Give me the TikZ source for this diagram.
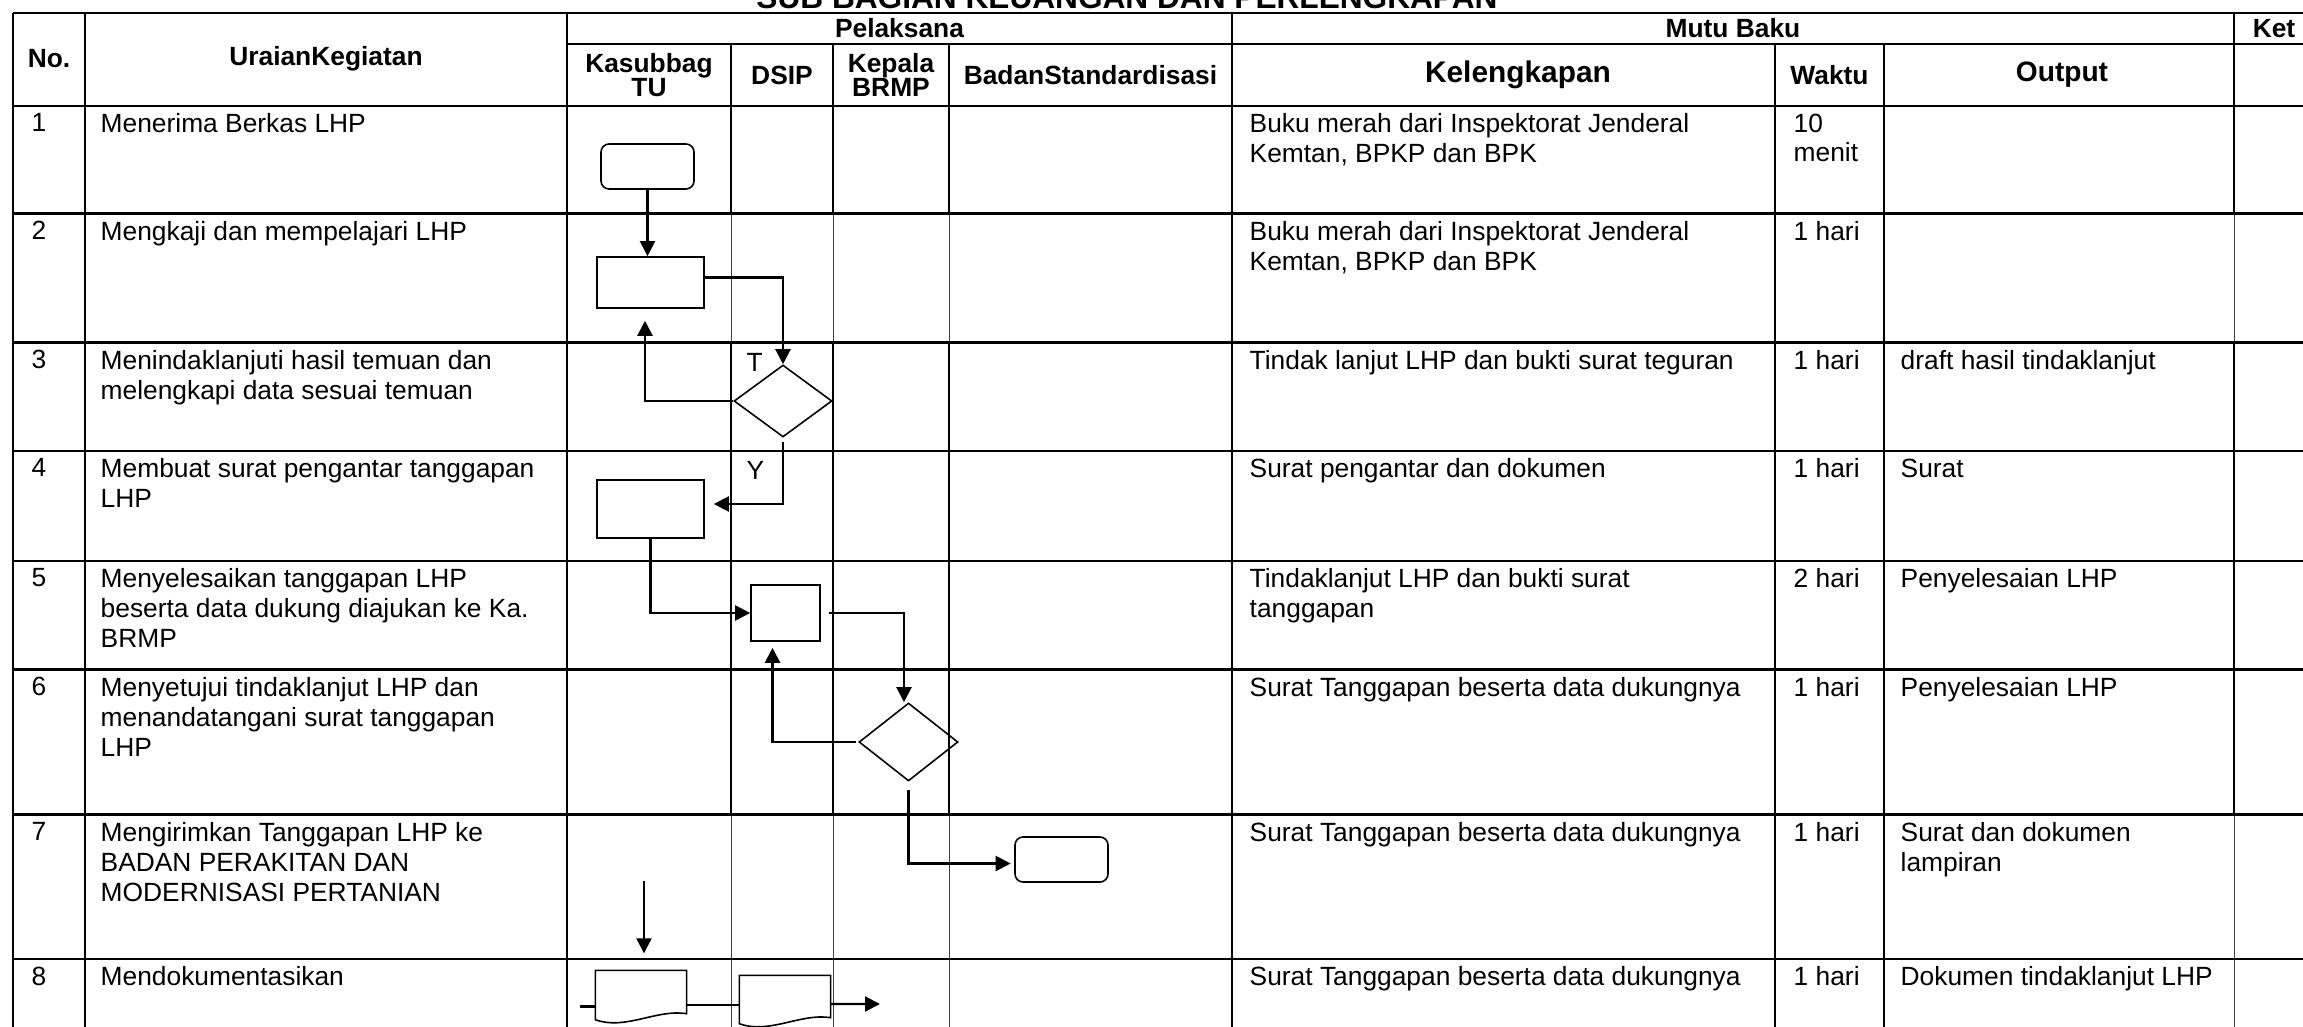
\documentclass[tikz,border=0pt]{standalone}
\usepackage{fontspec}
\setmainfont{Liberation Sans}
\usetikzlibrary{arrows.meta,shapes.geometric}

% document symbol with a wavy lower edge
\newcommand{\docshape}[1]{%
  \draw[outline] (#1.south west) -- (#1.north west) -- (#1.north east)
    -- ([yshift=0.6mm]#1.south east)
    .. controls +(-3mm,0.5mm) and +(3mm,-1.1mm) .. (#1.south west) -- cycle;}

\begin{document}
\begin{tikzpicture}[x=0.1mm, y=-0.1mm,
    grid/.style={line width=0.6pt},
    thin/.style={line width=0.25pt, black!75},
    txt/.style={anchor=north west, inner sep=0pt, align=left, font=\fontsize{7.5}{8.5}\selectfont},
    hdr/.style={inner sep=0pt, align=center, font=\bfseries\fontsize{7.5}{6.8}\selectfont},
    outline/.style={draw, line width=0.45pt},
    proc/.style={outline, inner sep=0pt},
    term/.style={proc, rounded corners=0.8mm},
    dec/.style={outline, diamond, inner sep=0pt},
    docu/.style={inner sep=0pt},
    flow/.style={line width=0.6pt, -{Triangle[length=1.5mm, width=1.5mm]}},
    link/.style={line width=0.6pt}]
     \useasboundingbox (0,0) rectangle (2303,1027);
     \clip (0,0) rectangle (2303,1027);

     % title, cut off by the page edge
     \node[inner sep=0pt, anchor=base, font=\bfseries\fontsize{9}{10}\selectfont] (title)
      at (1127,9) {SUB BAGIAN KEUANGAN DAN PERLENGKAPAN};

     % table grid
     \draw[grid] (  13,  13) -- (  13,1040);
     \draw[grid] (  85,  13) -- (  85,1040);
     \draw[grid] ( 567,  13) -- ( 567,1040);
     \draw[grid] (1232,  13) -- (1232,1040);
     \draw[grid] (1775,  44) -- (1775,1040);
     \draw[grid] (1884,  44) -- (1884,1040);
     \draw[grid] ( 731,  44) -- ( 731,213.5);
     \draw[thin] ( 731,213.5) -- ( 731,342.5);
     \draw[grid] ( 731,342.5) -- ( 731,814.5);
     \draw[thin] ( 731,814.5) -- ( 731,1040);
     \draw[grid] ( 833,  44) -- ( 833,213.5);
     \draw[thin] ( 833,213.5) -- ( 833,342.5);
     \draw[grid] ( 833,342.5) -- ( 833,814.5);
     \draw[thin] ( 833,814.5) -- ( 833,1040);
     \draw[grid] ( 949,  44) -- ( 949,213.5);
     \draw[thin] ( 949,213.5) -- ( 949,342.5);
     \draw[grid] ( 949,342.5) -- ( 949,814.5);
     \draw[thin] ( 949,814.5) -- ( 949,1040);
     \draw[grid] (2234,  13) -- (2234,213.5);
     \draw[thin] (2234,213.5) -- (2234,342.5);
     \draw[grid] (2234,342.5) -- (2234,814.5);
     \draw[thin] (2234,814.5) -- (2234,1040);
     \draw[grid] (  13,  13) -- (2320,  13);
     \draw[grid] ( 567,  44) -- (2320,  44);
     \draw[grid] (  13, 106) -- (2320, 106);
     \draw[grid] (  13,213.5) -- (2320,213.5);
     \draw[grid] (  13,342.5) -- (2320,342.5);
     \draw[grid] (  13, 451) -- (2320, 451);
     \draw[grid] (  13, 561) -- (2320, 561);
     \draw[grid] (  13,669.5) -- (2320,669.5);
     \draw[grid] (  13,814.5) -- (2320,814.5);
     \draw[grid] (  13, 959) -- (2320, 959);

     % header
     \node[hdr] (hno)   at (  49,  59) {No.};
     \node[hdr] (hura)  at ( 326,  59) {UraianKegiatan};
     \node[hdr] (hpel)  at (899.5,28.5) {Pelaksana};
     \node[hdr] (hmutu) at (1733,28.5) {Mutu Baku};
     \node[hdr] (hket)  at (2274,28.5) {Ket};
     \node[hdr] (hkas)  at ( 649,  75) {Kasubbag\\TU};
     \node[hdr] (hdsip) at ( 782,  75) {DSIP};
     \node[hdr] (hkep)  at ( 891,  75) {Kepala\\BRMP};
     \node[hdr] (hbsn)  at (1090.5,75) {BadanStandardisasi};
     \node[hdr, font=\bfseries\fontsize{8.5}{9}\selectfont] (hkel) at (1518,75) {Kelengkapan};
     \node[hdr] (hwkt)  at (1829.5,75) {Waktu};
     \node[hdr, font=\bfseries\fontsize{8}{9}\selectfont] (hout) at (2062,75) {Output};

     % numbers
     \node[txt] (no1) at (31,  113) {1};
     \node[txt] (no2) at (31,220.5) {2};
     \node[txt] (no3) at (31,349.5) {3};
     \node[txt] (no4) at (31,  458) {4};
     \node[txt] (no5) at (31,  568) {5};
     \node[txt] (no6) at (31,676.5) {6};
     \node[txt] (no7) at (31,821.5) {7};
     \node[txt] (no8) at (31,  966) {8};

     % activities
     \node[txt] (ura1) at (100,  113) {Menerima Berkas LHP};
     \node[txt] (ura2) at (100,220.5) {Mengkaji dan mempelajari LHP};
     \node[txt] (ura3) at (100,349.5) {Menindaklanjuti hasil temuan dan\\melengkapi data sesuai temuan};
     \node[txt] (ura4) at (100,  458) {Membuat surat pengantar tanggapan\\LHP};
     \node[txt] (ura5) at (100,  568) {Menyelesaikan tanggapan LHP\\beserta data dukung diajukan ke Ka.\\BRMP};
     \node[txt] (ura6) at (100,676.5) {Menyetujui tindaklanjut LHP dan\\menandatangani surat tanggapan\\LHP};
     \node[txt] (ura7) at (100,821.5) {Mengirimkan Tanggapan LHP ke\\BADAN PERAKITAN DAN\\MODERNISASI PERTANIAN};
     \node[txt] (ura8) at (100,  966) {Mendokumentasikan};

     % Kelengkapan
     \node[txt] (kel1) at (1249,  113) {Buku merah dari Inspektorat Jenderal\\Kemtan, BPKP dan BPK};
     \node[txt] (kel2) at (1249,220.5) {Buku merah dari Inspektorat Jenderal\\Kemtan, BPKP dan BPK};
     \node[txt] (kel3) at (1249,349.5) {Tindak lanjut LHP dan bukti surat teguran};
     \node[txt] (kel4) at (1249,  458) {Surat pengantar dan dokumen};
     \node[txt] (kel5) at (1249,  568) {Tindaklanjut LHP dan bukti surat\\tanggapan};
     \node[txt] (kel6) at (1249,676.5) {Surat Tanggapan beserta data dukungnya};
     \node[txt] (kel7) at (1249,821.5) {Surat Tanggapan beserta data dukungnya};
     \node[txt] (kel8) at (1249,  966) {Surat Tanggapan beserta data dukungnya};

     % Waktu
     \node[txt] (wkt1) at (1793,  113) {10\\menit};
     \node[txt] (wkt2) at (1793,220.5) {1 hari};
     \node[txt] (wkt3) at (1793,349.5) {1 hari};
     \node[txt] (wkt4) at (1793,  458) {1 hari};
     \node[txt] (wkt5) at (1793,  568) {2 hari};
     \node[txt] (wkt6) at (1793,676.5) {1 hari};
     \node[txt] (wkt7) at (1793,821.5) {1 hari};
     \node[txt] (wkt8) at (1793,  966) {1 hari};

     % Output
     \node[txt] (out3) at (1900,349.5) {draft hasil tindaklanjut};
     \node[txt] (out4) at (1900,  458) {Surat};
     \node[txt] (out5) at (1900,  568) {Penyelesaian LHP};
     \node[txt] (out6) at (1900,676.5) {Penyelesaian LHP};
     \node[txt] (out7) at (1900,821.5) {Surat dan dokumen\\lampiran};
     \node[txt] (out8) at (1900,  966) {Dokumen tindaklanjut LHP};

     % flow symbols
     \node[term, minimum width=9.3mm,  minimum height=4.5mm] (n1) at (647.5,166.5) {};
     \node[proc, minimum width=10.7mm, minimum height=5.1mm] (n2) at (650.5,282.5) {};
     \node[dec,  minimum width=9.8mm,  minimum height=7.2mm] (d3) at (783,401) {};
     \node[proc, minimum width=10.7mm, minimum height=5.8mm] (n4) at (650.5,509) {};
     \node[proc, minimum width=6.9mm,  minimum height=5.6mm] (n5) at (785.5,613) {};
     \node[dec,  minimum width=9.9mm,  minimum height=7.8mm] (d6) at (908.5,742) {};
     \node[term, minimum width=9.3mm,  minimum height=4.5mm] (n7) at (1061.5,859.5) {};
     \node[docu, minimum width=9.0mm,  minimum height=4.8mm] (doc8a) at (641,995) {};
     \node[docu, minimum width=9.0mm,  minimum height=4.7mm] (doc8b) at (785,999.5) {};
     \docshape{doc8a}
     \docshape{doc8b}

     \node[txt, anchor=base west] (lt) at (746,371.7) {T};
     \node[txt, anchor=base west] (ly) at (746,  480) {Y};

     % connectors
     \coordinate (a7) at (644,881);
     \coordinate (f8) at (580,1006.5);
     \coordinate (o8) at (880,1004);
     \draw[flow] (n1.south) -- (n1.south |- n2.north);
     \draw[flow] ([yshift=0.5mm]n2.east) -| (d3.north);
     \draw[flow] (d3.west) -| ([xshift=-0.55mm,yshift=-1.2mm]n2.south);
     \draw[flow] ([yshift=-0.4mm]d3.south) |- ([xshift=0.9mm,yshift=0.5mm]n4.east);
     \draw[flow] (n4.south) |- (n5.west);
     \draw[flow] ([xshift=0.8mm]n5.east) -| ([xshift=-0.45mm]d6.north);
     \draw[flow] ([xshift=-0.25mm]d6.west) -| ([xshift=-1.3mm,yshift=-0.6mm]n5.south);
     \draw[flow] ([yshift=-0.8mm]d6.south) |- ([xshift=-0.35mm,yshift=-0.4mm]n7.west);
     \draw[flow, shorten >=1.7mm] (a7) -- (a7 |- doc8a.north);
     \draw[link] (f8) -- (f8 -| doc8a.west);
     \draw[link] ([yshift=-1mm]doc8a.east) -- ([yshift=-1mm]doc8a.east -| doc8b.west);
     \draw[flow] ([yshift=-0.45mm]doc8b.east) -- (o8);
    \end{tikzpicture}
\end{document}
